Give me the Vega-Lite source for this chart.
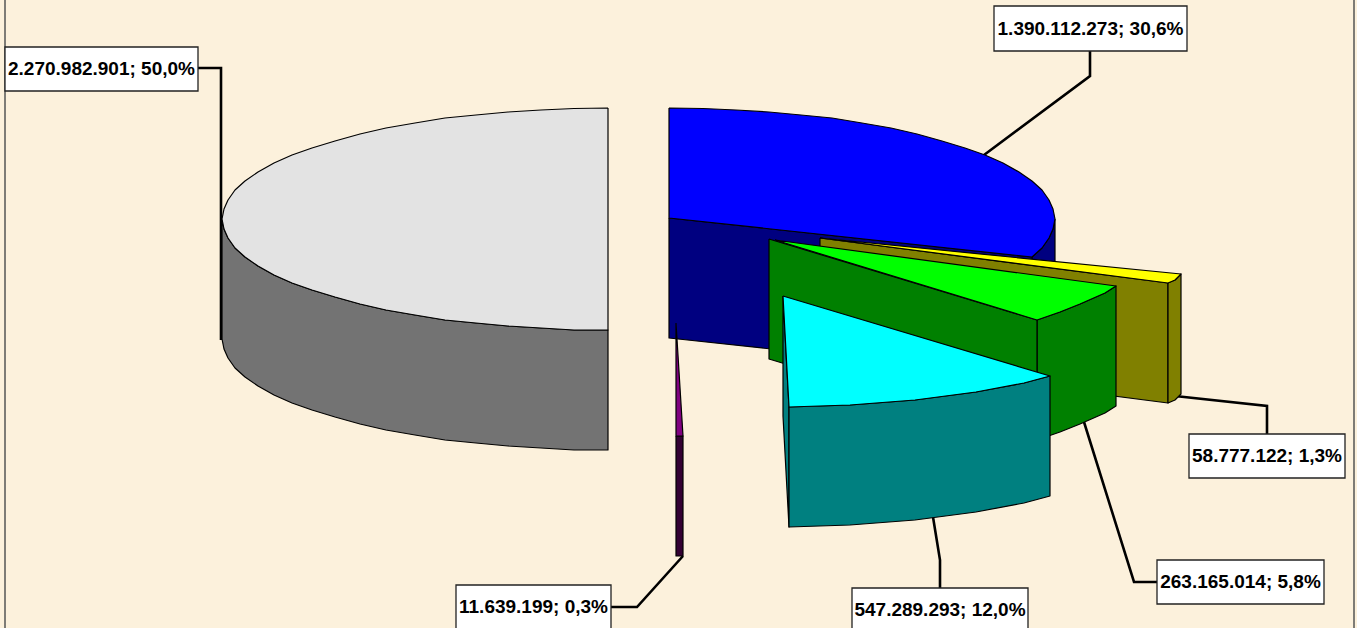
{"$schema":"https://vega.github.io/schema/vega-lite/v6.json","width":1357,"height":628,"padding":0,"autosize":"none","background":"#FCF1DC","config":{"view":{"stroke":null}},
"datasets":{
"labels":[
{"slice":"E","value":2270982901,"share":"50,0%","label":"2.270.982.901; 50,0%","x0":5,"x1":198,"y0":47,"y1":91},
{"slice":"A","value":1390112273,"share":"30,6%","label":"1.390.112.273; 30,6%","x0":994,"x1":1187,"y0":6,"y1":51},
{"slice":"B","value":58777122,"share":"1,3%","label":"58.777.122; 1,3%","x0":1189,"x1":1345,"y0":434,"y1":478},
{"slice":"C","value":263165014,"share":"5,8%","label":"263.165.014; 5,8%","x0":1157,"x1":1324,"y0":560,"y1":604},
{"slice":"D","value":547289293,"share":"12,0%","label":"547.289.293; 12,0%","x0":852,"x1":1028,"y0":588,"y1":632},
{"slice":"F","value":11639199,"share":"0,3%","label":"11.639.199; 0,3%","x0":456,"x1":611,"y0":585,"y1":629}
],
"frame":[
{"k":"frameL","i":0,"x":5,"y":0},{"k":"frameL","i":1,"x":5,"y":628},
{"k":"frameR","i":0,"x":1354,"y":0},{"k":"frameR","i":1,"x":1354,"y":628}
],
"leads":[
{"k":"E","i":0,"x":198,"y":68},{"k":"E","i":1,"x":221,"y":68},{"k":"E","i":2,"x":221,"y":340},
{"k":"A","i":0,"x":1090,"y":50},{"k":"A","i":1,"x":1090,"y":76},{"k":"A","i":2,"x":984,"y":155},
{"k":"B","i":0,"x":1267,"y":434},{"k":"B","i":1,"x":1267,"y":406},{"k":"B","i":2,"x":1175,"y":396},
{"k":"C","i":0,"x":1158,"y":582},{"k":"C","i":1,"x":1134,"y":582},{"k":"C","i":2,"x":1084,"y":422},
{"k":"D","i":0,"x":940,"y":588},{"k":"D","i":1,"x":940,"y":560},{"k":"D","i":2,"x":933,"y":517},
{"k":"F","i":0,"x":610,"y":607},{"k":"F","i":1,"x":637,"y":607},{"k":"F","i":2,"x":683,"y":556}
],
"shapes":[
{"p":"a01","c":"greyside","i":0,"x":222,"y":219},{"p":"a01","c":"greyside","i":1,"x":228,"y":238},{"p":"a01","c":"greyside","i":2,"x":245,"y":257},{"p":"a01","c":"greyside","i":3,"x":274,"y":275},{"p":"a01","c":"greyside","i":4,"x":312,"y":290},{"p":"a01","c":"greyside","i":5,"x":360,"y":304},{"p":"a01","c":"greyside","i":6,"x":415,"y":315},{"p":"a01","c":"greyside","i":7,"x":476,"y":323},{"p":"a01","c":"greyside","i":8,"x":541,"y":328},{"p":"a01","c":"greyside","i":9,"x":608,"y":330},{"p":"a01","c":"greyside","i":10,"x":608,"y":450},{"p":"a01","c":"greyside","i":11,"x":541,"y":448},{"p":"a01","c":"greyside","i":12,"x":476,"y":443},{"p":"a01","c":"greyside","i":13,"x":415,"y":435},{"p":"a01","c":"greyside","i":14,"x":360,"y":424},{"p":"a01","c":"greyside","i":15,"x":312,"y":410},{"p":"a01","c":"greyside","i":16,"x":274,"y":395},{"p":"a01","c":"greyside","i":17,"x":245,"y":377},{"p":"a01","c":"greyside","i":18,"x":228,"y":358},{"p":"a01","c":"greyside","i":19,"x":222,"y":339},{"p":"a01","c":"greyside","i":20,"x":222,"y":219},
{"p":"a01","c":"greyside","i":0.5,"x":224,"y":229},{"p":"a01","c":"greyside","i":1.5,"x":235,"y":248},{"p":"a01","c":"greyside","i":2.5,"x":258,"y":266},{"p":"a01","c":"greyside","i":3.5,"x":292,"y":283},{"p":"a01","c":"greyside","i":4.5,"x":335,"y":297},{"p":"a01","c":"greyside","i":5.5,"x":386,"y":310},{"p":"a01","c":"greyside","i":6.5,"x":445,"y":320},{"p":"a01","c":"greyside","i":7.5,"x":508,"y":326},{"p":"a01","c":"greyside","i":8.5,"x":574,"y":330},
{"p":"a01","c":"greyside","i":10.5,"x":574,"y":450},{"p":"a01","c":"greyside","i":11.5,"x":508,"y":446},{"p":"a01","c":"greyside","i":12.5,"x":445,"y":440},{"p":"a01","c":"greyside","i":13.5,"x":386,"y":430},{"p":"a01","c":"greyside","i":14.5,"x":335,"y":417},{"p":"a01","c":"greyside","i":15.5,"x":292,"y":403},{"p":"a01","c":"greyside","i":16.5,"x":258,"y":386},{"p":"a01","c":"greyside","i":17.5,"x":235,"y":368},{"p":"a01","c":"greyside","i":18.5,"x":224,"y":349},
{"p":"a02","c":"grey","i":0,"x":608,"y":108},{"p":"a02","c":"grey","i":1,"x":541,"y":110},{"p":"a02","c":"grey","i":2,"x":476,"y":115},{"p":"a02","c":"grey","i":3,"x":415,"y":123},{"p":"a02","c":"grey","i":4,"x":360,"y":134},{"p":"a02","c":"grey","i":5,"x":312,"y":148},{"p":"a02","c":"grey","i":6,"x":274,"y":163},{"p":"a02","c":"grey","i":7,"x":245,"y":181},{"p":"a02","c":"grey","i":8,"x":228,"y":200},{"p":"a02","c":"grey","i":9,"x":222,"y":219},{"p":"a02","c":"grey","i":10,"x":228,"y":238},{"p":"a02","c":"grey","i":11,"x":245,"y":257},{"p":"a02","c":"grey","i":12,"x":274,"y":275},{"p":"a02","c":"grey","i":13,"x":312,"y":290},{"p":"a02","c":"grey","i":14,"x":360,"y":304},{"p":"a02","c":"grey","i":15,"x":415,"y":315},{"p":"a02","c":"grey","i":16,"x":476,"y":323},{"p":"a02","c":"grey","i":17,"x":541,"y":328},{"p":"a02","c":"grey","i":18,"x":608,"y":330},{"p":"a02","c":"grey","i":19,"x":608,"y":108},
{"p":"a02","c":"grey","i":0.5,"x":574,"y":108.5},{"p":"a02","c":"grey","i":1.5,"x":508,"y":112},{"p":"a02","c":"grey","i":2.5,"x":445,"y":118},{"p":"a02","c":"grey","i":3.5,"x":386,"y":128},{"p":"a02","c":"grey","i":4.5,"x":335,"y":141},{"p":"a02","c":"grey","i":5.5,"x":292,"y":155},{"p":"a02","c":"grey","i":6.5,"x":258,"y":172},{"p":"a02","c":"grey","i":7.5,"x":235,"y":190},{"p":"a02","c":"grey","i":8.5,"x":224,"y":209},{"p":"a02","c":"grey","i":9.5,"x":224,"y":229},{"p":"a02","c":"grey","i":10.5,"x":235,"y":248},{"p":"a02","c":"grey","i":11.5,"x":258,"y":266},{"p":"a02","c":"grey","i":12.5,"x":292,"y":283},{"p":"a02","c":"grey","i":13.5,"x":335,"y":297},{"p":"a02","c":"grey","i":14.5,"x":386,"y":310},{"p":"a02","c":"grey","i":15.5,"x":445,"y":320},{"p":"a02","c":"grey","i":16.5,"x":508,"y":326},{"p":"a02","c":"grey","i":17.5,"x":574,"y":330},
{"p":"a03","c":"navy","i":0,"x":1055,"y":219},{"p":"a03","c":"navy","i":1,"x":1055,"y":339},{"p":"a03","c":"navy","i":1.5,"x":1053,"y":349},{"p":"a03","c":"navy","i":2,"x":1049,"y":358},{"p":"a03","c":"navy","i":2.5,"x":1042,"y":368},{"p":"a03","c":"navy","i":3,"x":1032,"y":377},{"p":"a03","c":"navy","i":4,"x":1032,"y":257},{"p":"a03","c":"navy","i":4.5,"x":1042,"y":248},{"p":"a03","c":"navy","i":5,"x":1049,"y":238},{"p":"a03","c":"navy","i":5.5,"x":1053,"y":229},{"p":"a03","c":"navy","i":6,"x":1055,"y":219},
{"p":"a04","c":"navy","i":0,"x":669,"y":218},{"p":"a04","c":"navy","i":1,"x":1032,"y":257},{"p":"a04","c":"navy","i":2,"x":1032,"y":377},{"p":"a04","c":"navy","i":3,"x":669,"y":338},{"p":"a04","c":"navy","i":4,"x":669,"y":218},
{"p":"a05","c":"blue","i":0,"x":669,"y":108},{"p":"a05","c":"blue","i":1,"x":736,"y":110},{"p":"a05","c":"blue","i":2,"x":801,"y":115},{"p":"a05","c":"blue","i":3,"x":862,"y":123},{"p":"a05","c":"blue","i":4,"x":917,"y":134},{"p":"a05","c":"blue","i":5,"x":965,"y":148},{"p":"a05","c":"blue","i":6,"x":1003,"y":163},{"p":"a05","c":"blue","i":7,"x":1032,"y":181},{"p":"a05","c":"blue","i":8,"x":1049,"y":200},{"p":"a05","c":"blue","i":9,"x":1055,"y":219},{"p":"a05","c":"blue","i":10,"x":1049,"y":238},{"p":"a05","c":"blue","i":11,"x":1032,"y":257},{"p":"a05","c":"blue","i":12,"x":669,"y":218},{"p":"a05","c":"blue","i":13,"x":669,"y":108},
{"p":"a05","c":"blue","i":0.5,"x":703,"y":108.5},{"p":"a05","c":"blue","i":1.5,"x":769,"y":112},{"p":"a05","c":"blue","i":2.5,"x":832,"y":118},{"p":"a05","c":"blue","i":3.5,"x":891,"y":128},{"p":"a05","c":"blue","i":4.5,"x":942,"y":141},{"p":"a05","c":"blue","i":5.5,"x":985,"y":155},{"p":"a05","c":"blue","i":6.5,"x":1019,"y":172},{"p":"a05","c":"blue","i":7.5,"x":1042,"y":190},{"p":"a05","c":"blue","i":8.5,"x":1053,"y":209},{"p":"a05","c":"blue","i":9.5,"x":1053,"y":229},{"p":"a05","c":"blue","i":10.5,"x":1042,"y":248},
{"p":"a06","c":"olive","i":0,"x":820,"y":238},{"p":"a06","c":"olive","i":1,"x":1168,"y":283},{"p":"a06","c":"olive","i":2,"x":1168,"y":403},{"p":"a06","c":"olive","i":3,"x":820,"y":358},{"p":"a06","c":"olive","i":4,"x":820,"y":238},
{"p":"a07","c":"olive","i":0,"x":1168,"y":283},{"p":"a07","c":"olive","i":1,"x":1175,"y":280},{"p":"a07","c":"olive","i":2,"x":1181,"y":274},{"p":"a07","c":"olive","i":3,"x":1181,"y":394},{"p":"a07","c":"olive","i":4,"x":1175,"y":400},{"p":"a07","c":"olive","i":5,"x":1168,"y":403},{"p":"a07","c":"olive","i":6,"x":1168,"y":283},
{"p":"a08","c":"yellow","i":0,"x":820,"y":238},{"p":"a08","c":"yellow","i":1,"x":1181,"y":274},{"p":"a08","c":"yellow","i":2,"x":1175,"y":280},{"p":"a08","c":"yellow","i":3,"x":1168,"y":283},{"p":"a08","c":"yellow","i":4,"x":820,"y":238},
{"p":"a09","c":"purpleside","i":0,"x":676,"y":436},{"p":"a09","c":"purpleside","i":1,"x":683,"y":436},{"p":"a09","c":"purpleside","i":2,"x":683,"y":556},{"p":"a09","c":"purpleside","i":3,"x":676,"y":556},{"p":"a09","c":"purpleside","i":4,"x":676,"y":436},
{"p":"a10","c":"purple","i":0,"x":676,"y":323},{"p":"a10","c":"purple","i":1,"x":683,"y":436},{"p":"a10","c":"purple","i":2,"x":676,"y":436},{"p":"a10","c":"purple","i":3,"x":676,"y":323},
{"p":"a11","c":"green","i":0,"x":1037,"y":320},{"p":"a11","c":"green","i":1,"x":1060,"y":312},{"p":"a11","c":"green","i":2,"x":1080,"y":304},{"p":"a11","c":"green","i":3,"x":1105,"y":293},{"p":"a11","c":"green","i":4,"x":1116,"y":286},{"p":"a11","c":"green","i":5,"x":1116,"y":406},{"p":"a11","c":"green","i":6,"x":1105,"y":413},{"p":"a11","c":"green","i":7,"x":1080,"y":424},{"p":"a11","c":"green","i":8,"x":1060,"y":432},{"p":"a11","c":"green","i":9,"x":1037,"y":440},{"p":"a11","c":"green","i":10,"x":1037,"y":320},
{"p":"a12","c":"green","i":0,"x":769,"y":239},{"p":"a12","c":"green","i":1,"x":1037,"y":320},{"p":"a12","c":"green","i":2,"x":1037,"y":440},{"p":"a12","c":"green","i":3,"x":769,"y":359},{"p":"a12","c":"green","i":4,"x":769,"y":239},
{"p":"a13","c":"lime","i":0,"x":775,"y":240},{"p":"a13","c":"lime","i":1,"x":1116,"y":286},{"p":"a13","c":"lime","i":2,"x":1105,"y":293},{"p":"a13","c":"lime","i":3,"x":1080,"y":304},{"p":"a13","c":"lime","i":4,"x":1060,"y":312},{"p":"a13","c":"lime","i":5,"x":1037,"y":320},{"p":"a13","c":"lime","i":6,"x":775,"y":240},
{"p":"a14","c":"teal","i":0,"x":783,"y":296},{"p":"a14","c":"teal","i":1,"x":789,"y":407},{"p":"a14","c":"teal","i":2,"x":789,"y":527},{"p":"a14","c":"teal","i":3,"x":783,"y":416},{"p":"a14","c":"teal","i":4,"x":783,"y":296},
{"p":"a15","c":"teal","i":0,"x":789,"y":407},{"p":"a15","c":"teal","i":1,"x":850,"y":405},{"p":"a15","c":"teal","i":2,"x":915,"y":400},{"p":"a15","c":"teal","i":3,"x":976,"y":392},{"p":"a15","c":"teal","i":4,"x":1024,"y":383},{"p":"a15","c":"teal","i":5,"x":1050,"y":376},{"p":"a15","c":"teal","i":6,"x":1050,"y":496},{"p":"a15","c":"teal","i":7,"x":1024,"y":503},{"p":"a15","c":"teal","i":8,"x":976,"y":512},{"p":"a15","c":"teal","i":9,"x":915,"y":520},{"p":"a15","c":"teal","i":10,"x":850,"y":525},{"p":"a15","c":"teal","i":11,"x":789,"y":527},{"p":"a15","c":"teal","i":12,"x":789,"y":407},
{"p":"a16","c":"cyan","i":0,"x":783,"y":296},{"p":"a16","c":"cyan","i":1,"x":1050,"y":376},{"p":"a16","c":"cyan","i":2,"x":1024,"y":383},{"p":"a16","c":"cyan","i":3,"x":976,"y":392},{"p":"a16","c":"cyan","i":4,"x":915,"y":400},{"p":"a16","c":"cyan","i":5,"x":850,"y":405},{"p":"a16","c":"cyan","i":6,"x":789,"y":407},{"p":"a16","c":"cyan","i":7,"x":783,"y":296}
]},
"layer":[
{"data":{"name":"frame"},"mark":{"type":"line","stroke":"#555555","strokeWidth":1.5},"encoding":{"x":{"field":"x","type":"quantitative","scale":{"domain":[0,1357],"nice":false,"zero":false},"axis":null},"y":{"field":"y","type":"quantitative","scale":{"domain":[628,0],"nice":false,"zero":false},"axis":null},"detail":{"field":"k"},"order":{"field":"i"}}},
{"data":{"name":"leads"},"mark":{"type":"line","stroke":"#000000","strokeWidth":2.6},"encoding":{"x":{"field":"x","type":"quantitative","axis":null},"y":{"field":"y","type":"quantitative","axis":null},"detail":{"field":"k"},"order":{"field":"i"}}},
{"data":{"name":"shapes"},"mark":{"type":"line","stroke":"#000000","strokeWidth":1.2,"strokeJoin":"round"},"encoding":{"x":{"field":"x","type":"quantitative","axis":null},"y":{"field":"y","type":"quantitative","axis":null},"detail":{"field":"p"},"order":{"field":"i"},"fill":{"field":"c","type":"nominal","legend":null,"scale":{"domain":["greyside","grey","navy","blue","olive","yellow","purpleside","purple","green","lime","teal","cyan"],"range":["#737373","#E3E3E3","#000080","#0000FF","#808000","#FFFF00","#330033","#800080","#008000","#00FF00","#008080","#00FFFF"]}}}},
{"data":{"name":"labels"},"mark":{"type":"rect","fill":"#FFFFFF","stroke":"#222222","strokeWidth":1.3},"encoding":{"x":{"field":"x0","type":"quantitative","axis":null},"x2":{"field":"x1"},"y":{"field":"y0","type":"quantitative","axis":null},"y2":{"field":"y1"}}},
{"data":{"name":"labels"},"transform":[{"calculate":"(datum.x0+datum.x1)/2","as":"xm"},{"calculate":"(datum.y0+datum.y1)/2","as":"ym"}],"mark":{"type":"text","font":"Liberation Sans","fontWeight":"bold","fontSize":19,"color":"#000000","align":"center","baseline":"middle"},"encoding":{"x":{"field":"xm","type":"quantitative","axis":null},"y":{"field":"ym","type":"quantitative","axis":null},"text":{"field":"label"}}}
]}
